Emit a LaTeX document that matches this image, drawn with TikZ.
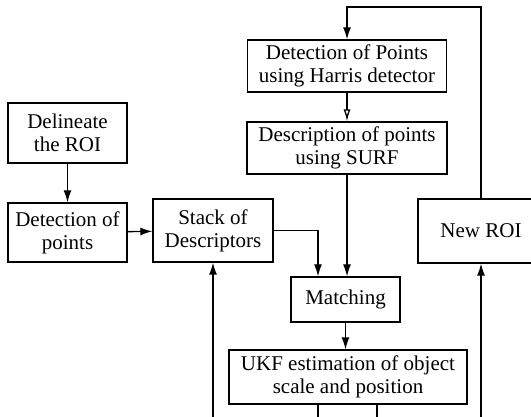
\documentclass[tikz,border=0pt]{standalone}
\usepackage{fontspec}
\setmainfont{Liberation Serif}
\usetikzlibrary{positioning, arrows.meta}
\tikzset{
    arrow/.style={draw,-{Latex[length=12pt,width=8pt]}},
    openarrow/.style={draw,-{Latex[open,length=12pt,width=7pt]}},
    block/.style={shape=rectangle,draw,align=center,inner sep=0pt,
        font=\fontsize{21}{23}\selectfont}
}

\begin{document}
\begin{tikzpicture}[x=1pt, y=-1pt, line width=1.3pt]
    % frame of the picture
    \useasboundingbox (0,0) rectangle (531,417);
    \clip (0,0) rectangle (531,417);

    % nodes
    \node [block, minimum width=119pt, minimum height=60pt] at (67.5,133)   (roi)    {Delineate\\the ROI};
    \node [block, minimum width=119pt, minimum height=59pt] at (67.5,232.5) (det)    {Detection of\\points};
    \node [block, minimum width=120pt, minimum height=63pt] at (213,230.5)  (stack)  {Stack of\\Descriptors};
    \node [block, minimum width=199pt, minimum height=52pt] at (347,66)     (harris) {Detection of Points\\using Harris detector};
    \node [block, minimum width=200pt, minimum height=52pt] at (347,148)    (surf)   {Description of points\\using SURF};
    \node [block, minimum width=109pt, minimum height=45pt] at (345.5,299.5) (match) {Matching};
    \node [block, minimum width=238pt, minimum height=54pt] at (348,377)    (ukf)    {UKF estimation of object\\scale and position};
    \node [block, minimum width=126pt, minimum height=64pt] at (481,231)    (newroi) {New ROI};

    % hilfspunkte
    \coordinate (loop) at (400,7);
    \coordinate (outL) at (213,440);
    \coordinate (outR) at (481,440);
    \coordinate (downL) at (318,440);
    \coordinate (downR) at (377,440);

    % draw arrows
    \begin{scope}[arrow]
        \draw (roi) -- (det);
        \draw (det) -- (stack);
        \draw (stack.east) -| ([xshift=-27.5pt]match.north);
        \draw (surf) -- (surf |- match.north);
        \draw (match) -- (match |- ukf.north);
        \draw (newroi.north) |- (loop) -| (harris.north);
        \draw (outL) -- (stack.south);
        \draw (outR) -- (newroi.south);
    \end{scope}
    \draw [openarrow] (harris) -- (surf);
    \draw (ukf.south -| downL) -- (downL);
    \draw (ukf.south -| downR) -- (downR);
\end{tikzpicture}
\end{document}
